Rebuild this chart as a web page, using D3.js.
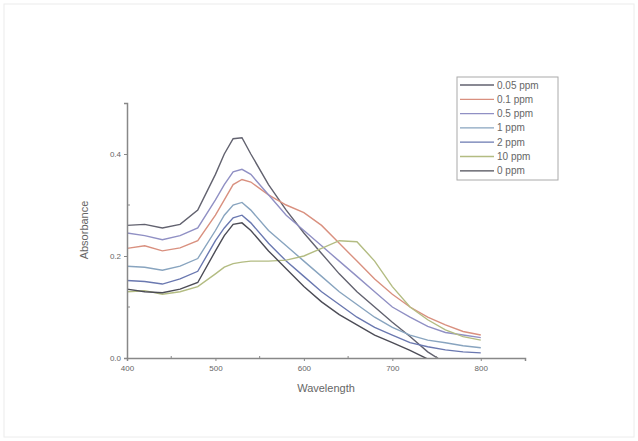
<!DOCTYPE html>
<html lang="en">
<head>
<meta charset="utf-8">
<title>Absorbance spectra</title>
<script src="https://cdn.jsdelivr.net/npm/d3@7"></script>
<style>
  body { margin: 0; background: #fff; }
  text { font-family: "Liberation Sans", Arial, sans-serif; fill: #666; }
</style>
</head>
<body>
<script>
  /* data */
  var wavelengths = [400,420,440,460,480,500,510,520,530,540,560,580,600,620,640,660,680,700,720,740,760,780,800];
  var labels = ["0.05 ppm", "0.1 ppm", "0.5 ppm", "1 ppm", "2 ppm", "10 ppm", "0 ppm"];
  var colors = ["#62626f", "#d9907f", "#9090c4", "#88a4bf", "#6a78b0", "#b3bc82", "#4c4c56"];

  var s005 = [.26,.262,.255,.262,.29,.36,.40,.43,.432,.40,.34,.29,.245,.205,.165,.13,.10,.07,.042,.012,-.01,-.02,-.03];
  var s01  = [.215,.22,.21,.216,.23,.28,.31,.34,.35,.345,.32,.30,.285,.26,.225,.19,.155,.125,.10,.08,.065,.052,.045];
  var s05  = [.245,.24,.232,.24,.255,.31,.34,.365,.37,.36,.32,.28,.25,.22,.19,.16,.13,.10,.08,.062,.05,.045,.04];
  var s1   = [.18,.178,.172,.18,.195,.25,.28,.30,.305,.29,.25,.22,.19,.16,.13,.105,.08,.06,.045,.035,.03,.024,.02];
  var s2   = [.152,.15,.145,.155,.17,.23,.255,.275,.28,.265,.225,.19,.16,.13,.105,.08,.06,.045,.03,.022,.016,.012,.01];
  var s10  = [.13,.132,.125,.13,.14,.165,.178,.185,.188,.19,.19,.192,.20,.215,.23,.228,.19,.14,.10,.075,.055,.042,.035];
  var s0   = [.135,.13,.128,.135,.148,.21,.24,.262,.265,.25,.21,.175,.14,.11,.085,.065,.045,.03,.015,-.002,-.02,-.03,-.04];

  var series = [s005, s01, s05, s1, s2, s10, s0];

  var xTicks = [400, 500, 600, 700, 800];
  var yTicks = [0.0, 0.2, 0.4];

  var w = 638, h = 441;
  var padLeft = 127, padRight = 525, padTop = 103, padBottom = 358;

  var svg = d3.select("body").append("svg")
      .attr("width", w)
      .attr("height", h);

  // faint frame round the picture
  svg.append("rect")
      .attr("x", 4).attr("y", 4)
      .attr("width", w - 8).attr("height", h - 8)
      .attr("fill", "none")
      .attr("stroke", "#ececec");

  var x = d3.scaleLinear().domain([400, 850]).range([padLeft, padRight]);
  var y = d3.scaleLinear().domain([0, 0.5]).range([padBottom, padTop]);

  svg.append("clipPath").attr("id", "plot")
     .append("rect")
      .attr("x", padLeft).attr("y", padTop - 5)
      .attr("width", padRight - padLeft).attr("height", padBottom - padTop + 5);

  var line = d3.line()
      .x(function(d, i) { return x(wavelengths[i]); })
      .y(function(d) { return y(d); });

  svg.append("g")
      .attr("clip-path", "url(#plot)")
    .selectAll("path")
    .data(series)
    .enter()
    .append("path")
      .attr("d", line)
      .attr("fill", "none")
      .attr("stroke", function(d, i) { return colors[i]; })
      .attr("stroke-width", 1.4);

  // axes
  var xAxis = svg.append("g")
      .attr("transform", "translate(0," + padBottom + ")")
      .call(d3.axisBottom(x).tickValues(xTicks).tickFormat(d3.format("d")).tickSize(3));
  xAxis.append("g").selectAll("line")
      .data([450, 550, 650, 750])
      .enter().append("line")
      .attr("x1", function(d) { return x(d); })
      .attr("x2", function(d) { return x(d); })
      .attr("y1", -2).attr("y2", 0)
      .attr("stroke", "#888");

  var yAxis = svg.append("g")
      .attr("transform", "translate(" + padLeft + ",0)")
      .call(d3.axisLeft(y).tickValues(yTicks).tickFormat(d3.format(".1f")).tickSize(3));
  yAxis.append("g").selectAll("line")
      .data([0.1, 0.3])
      .enter().append("line")
      .attr("y1", function(d) { return y(d); })
      .attr("y2", function(d) { return y(d); })
      .attr("x1", 0).attr("x2", 3)
      .attr("stroke", "#888");

  svg.selectAll(".domain").attr("stroke", "#888").attr("stroke-width", 1.5);
  svg.selectAll(".tick line").attr("stroke", "#888");
  svg.selectAll(".tick text").attr("font-size", 8).attr("fill", "#666");
  xAxis.selectAll(".tick text").attr("dy", "0.9em");

  svg.append("text")
      .attr("x", 326).attr("y", 392)
      .attr("text-anchor", "middle")
      .attr("font-size", 11)
      .text("Wavelength");

  svg.append("text")
      .attr("transform", "translate(88,230) rotate(-90)")
      .attr("text-anchor", "middle")
      .attr("font-size", 11)
      .text("Absorbance");

  // legend
  var legend = svg.append("g");
  legend.append("rect")
      .attr("x", 457).attr("y", 77)
      .attr("width", 101).attr("height", 103)
      .attr("fill", "#fff")
      .attr("stroke", "#aaa");

  var items = legend.selectAll(".item")
      .data(labels)
      .enter().append("g")
      .attr("class", "item")
      .attr("transform", function(d, i) { return "translate(0," + (85 + i * 14.3) + ")"; });
  items.append("line")
      .attr("x1", 460).attr("x2", 494)
      .attr("stroke", function(d, i) { return colors[i]; })
      .attr("stroke-width", 1.3);
  items.append("text")
      .attr("x", 497).attr("y", 3.5)
      .attr("font-size", 10)
      .text(function(d) { return d; });
</script>
</body>
</html>
